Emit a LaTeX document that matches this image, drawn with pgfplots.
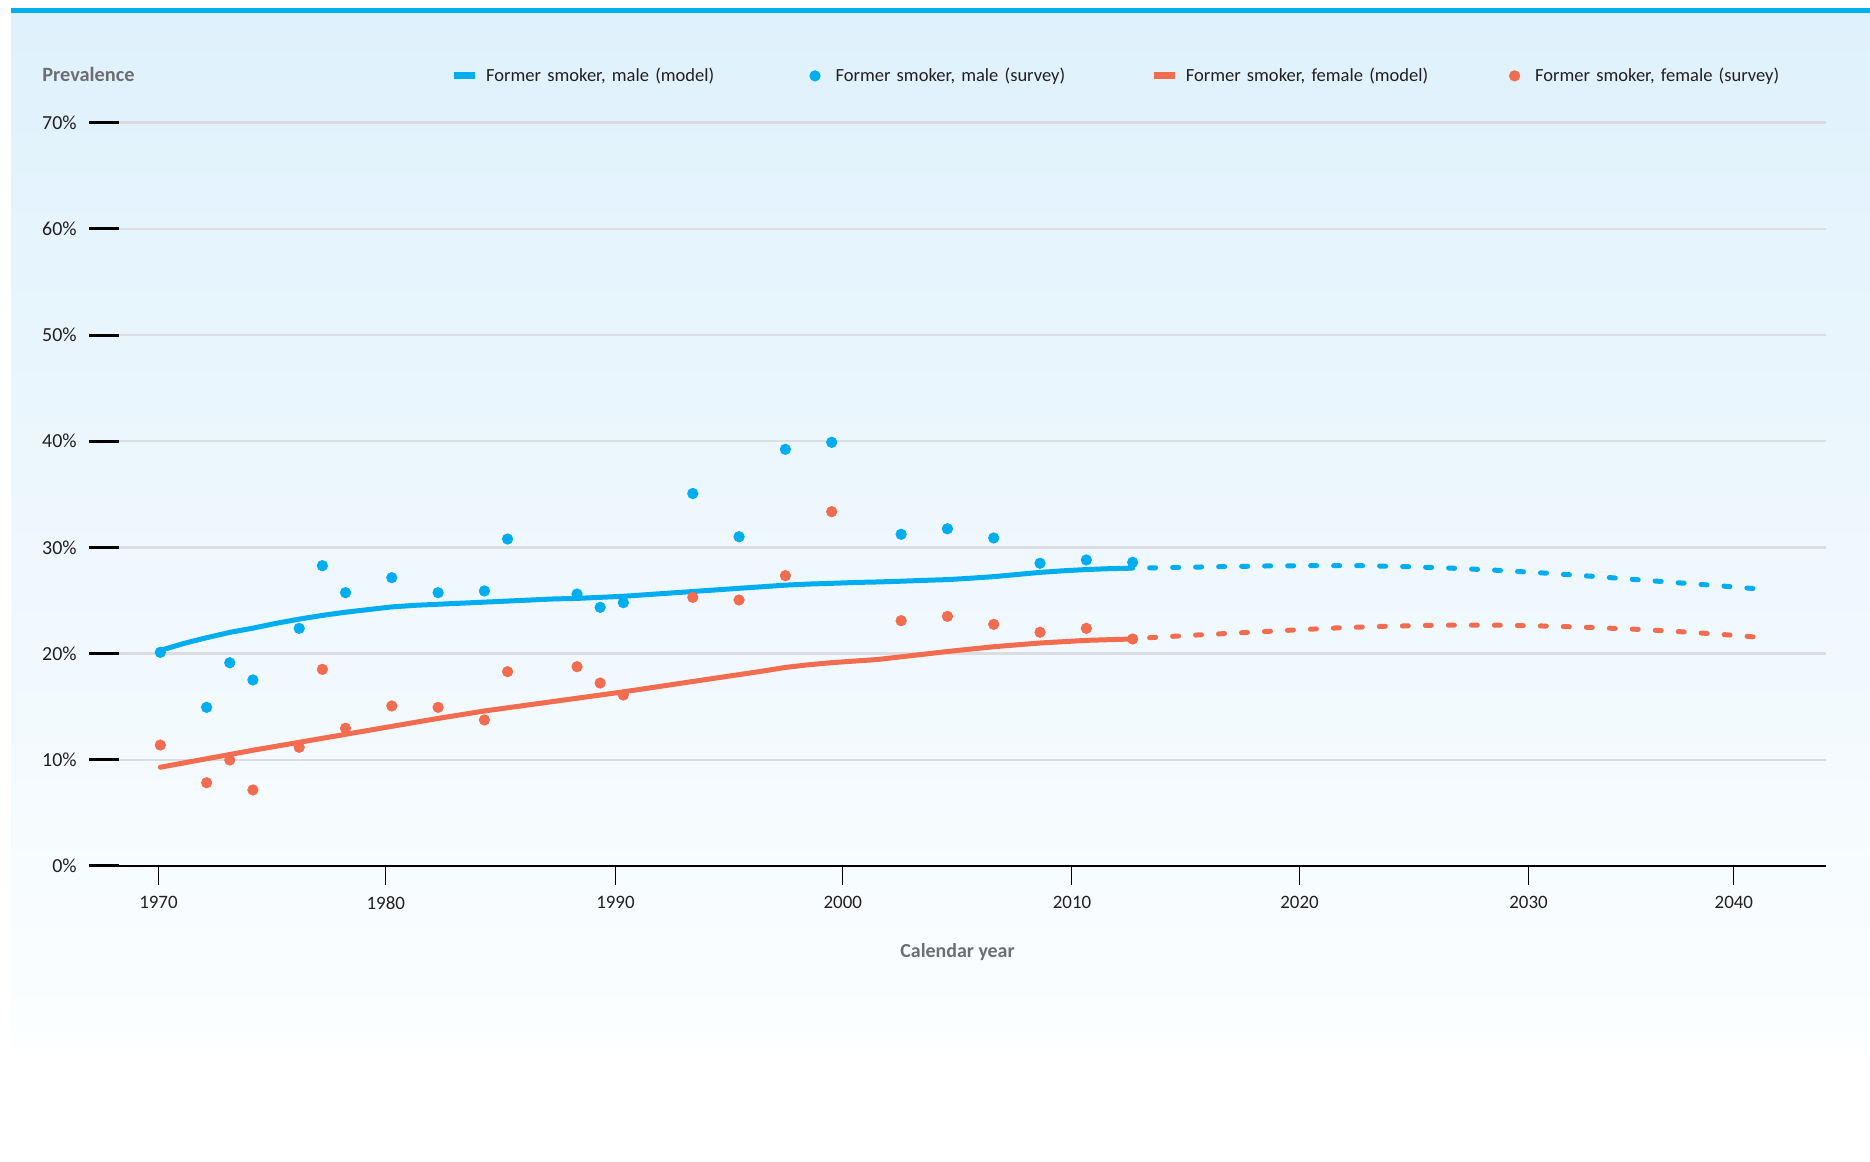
\documentclass[border=0pt]{standalone}
\usepackage{pgfplots}
\usepackage{pgfplotstable}
\pgfplotsset{compat=1.18}
\usepackage{fontspec}
\setmainfont{Carlito}
\definecolor{cblue}{RGB}{0,174,239}
\definecolor{corange}{RGB}{242,108,79}
\definecolor{gridgray}{RGB}{218,222,226}
\definecolor{labgray}{RGB}{109,110,113}
\definecolor{txt}{RGB}{35,31,32}
\definecolor{paneltop}{RGB}{223,241,252}
\definecolor{panelbot}{RGB}{252,254,255}

\pgfplotstableread{
year val
1970 20.12
1972 14.94
1973 19.14
1974 17.52
1976 22.38
1977 28.28
1978 25.74
1980 27.15
1982 25.74
1984 25.90
1985 30.79
1988 25.61
1989 24.36
1990 24.80
1993 35.08
1995 31.01
1997 39.24
1999 39.90
2002 31.24
2004 31.76
2006 30.89
2008 28.51
2010 28.82
2012 28.60
}\malesurvey

\pgfplotstableread{
year val
1970 11.39
1972 7.84
1973 9.98
1974 7.16
1976 11.18
1977 18.52
1978 12.97
1980 15.07
1982 14.94
1984 13.75
1985 18.30
1988 18.77
1989 17.23
1990 16.10
1993 25.30
1995 25.05
1997 27.34
1999 33.37
2002 23.10
2004 23.51
2006 22.76
2008 22.01
2010 22.38
2012 21.38
}\femalesurvey

\pgfplotstableread{
year val
1970 20.30
1971 20.95
1972 21.50
1973 22.00
1974 22.40
1975 22.85
1976 23.25
1977 23.60
1978 23.90
1979 24.15
1980 24.40
1981 24.55
1982 24.65
1983 24.75
1984 24.85
1985 24.95
1986 25.05
1987 25.15
1988 25.20
1989 25.30
1990 25.40
1991 25.55
1992 25.70
1993 25.85
1994 26.00
1995 26.15
1996 26.30
1997 26.45
1998 26.55
1999 26.62
2000 26.70
2001 26.75
2002 26.82
2003 26.90
2004 26.97
2005 27.10
2006 27.25
2007 27.45
2008 27.65
2009 27.80
2010 27.92
2011 28.00
2012 28.05
}\malemodel

\pgfplotstableread{
year val
2012 28.05
2014 28.12
2016 28.20
2018 28.26
2020 28.29
2022 28.28
2024 28.18
2026 28.03
2028 27.82
2030 27.56
2032 27.26
2034 26.93
2036 26.60
2038 26.28
2039 26.09
}\maleproj

\pgfplotstableread{
year val
1970 9.30
1972 10.10
1974 10.90
1976 11.65
1978 12.40
1980 13.15
1982 13.90
1984 14.60
1986 15.20
1988 15.80
1990 16.40
1992 17.05
1994 17.70
1996 18.35
1997 18.70
1998 18.95
1999 19.15
2000 19.30
2001 19.45
2002 19.70
2004 20.20
2006 20.65
2008 21.00
2010 21.25
2012 21.38
}\femalemodel

\pgfplotstableread{
year val
2012 21.38
2013 21.54
2015 21.78
2017 22.00
2019 22.23
2021 22.44
2023 22.58
2025 22.67
2027 22.69
2028 22.67
2030 22.59
2032 22.45
2034 22.27
2036 22.02
2038 21.72
2039 21.54
}\femaleproj

\begin{document}
\begin{tikzpicture}
\path[use as bounding box, fill=white] (0,0) rectangle (935bp,581bp);
\shade[top color=paneltop, bottom color=panelbot] (5.5bp,57bp) rectangle (935bp,574.35bp);
\fill[cblue] (5.5bp,574.35bp) rectangle (935bp,577bp);
\begin{axis}[
  at={(44.5bp,148bp)}, anchor=south west,
  scale only axis, width=868.5bp, height=371.65bp,
  xmin=1966.92, xmax=2041.95, ymin=0, ymax=70,
  separate axis lines,
  axis x line*=bottom,
  x axis line style={line width=1.2bp, black, -},
  y axis line style={draw=none},
  /pgf/number format/assume math mode=true,
  xtick={1969.92,1979.74,1989.66,1999.48,2009.38,2019.21,2029.10,2037.97},
  xticklabels={1970,1980,1990,2000,2010,2020,2030,2040},
  xtick align=outside,
  major tick length=9.5bp,
  xtick style={black, line width=0.5bp},
  xticklabel style={font=\fontsize{9.5}{11}\selectfont, text=txt, anchor=north, inner sep=0pt, yshift=-5.5bp},
  ytick={0,10,...,70},
  yticklabel={\pgfmathprintnumber{\tick}\%},
  ytick pos=left,
  ytick align=inside,
  ytick style={draw=none},
  yticklabel style={font=\fontsize{10}{12}\selectfont, text=txt, anchor=east, inner sep=0pt, xshift=-6bp},
  ymajorgrids,
  grid style={gridgray, line width=1.2bp},
  xlabel={Calendar year},
  xlabel style={at={(axis description cs:0.5,0)}, anchor=center, yshift=-42.85bp, font=\bfseries\fontsize{10}{12}\selectfont, text=labgray},
  ylabel={Prevalence},
  every axis y label/.style={at={(axis description cs:0,1)}, anchor=west, xshift=-23.5bp, yshift=24.35bp, font=\bfseries\fontsize{10.2}{12}\selectfont, text=labgray, inner sep=0pt},
  legend columns=4,
  legend cell align=left,
  legend style={at={(0.21013,1.0630)}, anchor=west, draw=none, fill=none, inner sep=0pt, outer sep=0pt,
    font=\fontsize{9.3}{11}\selectfont, text=txt,
    nodes={inner sep=0pt, text width=159bp, align=left},
    /tikz/every odd column/.append style={column sep=5.7bp},
    /tikz/every even column/.append style={column sep=0pt}},
]
\addplot[cblue, line width=2.5bp, line cap=round, line join=round, forget plot] table[x=year,y=val] {\malemodel};
\addplot[cblue, line width=2.5bp, line cap=round, line join=round, dash pattern=on 3bp off 8.5bp, dash phase=3bp, forget plot] table[x=year,y=val] {\maleproj};
\addplot[corange, line width=2.5bp, line cap=round, line join=round, forget plot] table[x=year,y=val] {\femalemodel};
\addplot[corange, line width=2.5bp, line cap=round, line join=round, dash pattern=on 3bp off 8.5bp, dash phase=3bp, forget plot] table[x=year,y=val] {\femaleproj};
\addplot[only marks, mark=*, mark size=2.6bp, color=cblue, mark options={fill=cblue, draw=cblue}, forget plot] table[x=year,y=val] {\malesurvey};
\addplot[only marks, mark=*, mark size=2.6bp, color=corange, mark options={fill=corange, draw=corange}, forget plot] table[x=year,y=val] {\femalesurvey};
\addlegendimage{legend image code/.code={\fill[cblue] (0bp,-1.5bp) rectangle (10bp,1.5bp);}}
\addlegendentry{Former smoker, male (model)}
\addlegendimage{legend image code/.code={\path[draw=none, fill=none] (0bp,0bp) rectangle (10bp,0.1bp); \fill[cblue] (5.4bp,0bp) circle[radius=2.6bp];}}
\addlegendentry{Former smoker, male (survey)}
\addlegendimage{legend image code/.code={\fill[corange] (0bp,-1.5bp) rectangle (10bp,1.5bp);}}
\addlegendentry{Former smoker, female (model)}
\addlegendimage{legend image code/.code={\path[draw=none, fill=none] (0bp,0bp) rectangle (10bp,0.1bp); \fill[corange] (5.4bp,0bp) circle[radius=2.6bp];}}
\addlegendentry{Former smoker, female (survey)}
\end{axis}
\begin{axis}[
  at={(44.5bp,148bp)}, anchor=south west,
  scale only axis, width=868.5bp, height=371.65bp,
  xmin=1966.92, xmax=2041.95, ymin=0, ymax=70,
  hide x axis,
  y axis line style={draw=none},
  ytick={0,10,...,70},
  yticklabels={},
  ytick pos=left,
  ytick align=inside,
  major tick length=15bp,
  ytick style={black, line width=1.5bp},
]
\end{axis}
\end{tikzpicture}
\end{document}
